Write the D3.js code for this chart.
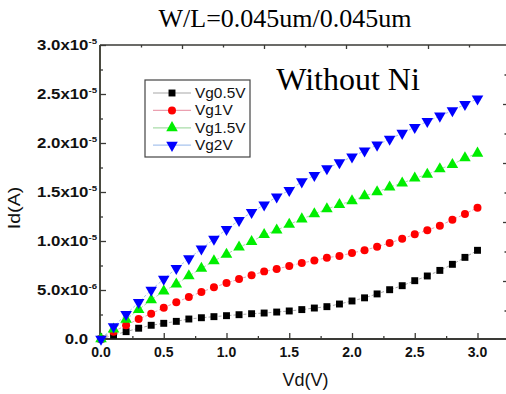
<!DOCTYPE html>
<html>
<head>
<meta charset="utf-8">
<script src="https://cdn.jsdelivr.net/npm/d3@7"></script>
<style>
  html, body { margin: 0; padding: 0; background: #fff; }
  svg { display: block; }
</style>
</head>
<body>
<div id="chart"></div>
<script>
// drain voltage sweep
const vd = [0, 0.1, 0.2, 0.3, 0.4, 0.5, 0.6, 0.7, 0.8, 0.9, 1.0, 1.1, 1.2, 1.3, 1.4, 1.5,
  1.6, 1.7, 1.8, 1.9, 2.0, 2.1, 2.2, 2.3, 2.4, 2.5, 2.6, 2.7, 2.8, 2.9, 3.0];

// drain current, in units of 1e-6 A
const idVg05 = [0, 0.40, 0.75, 1.10, 1.40, 1.60, 1.80, 2.04, 2.17, 2.28, 2.38, 2.48, 2.58, 2.65, 2.75, 2.86,
  3.00, 3.16, 3.30, 3.57, 3.88, 4.20, 4.60, 5.03, 5.44, 5.95, 6.43, 7.00, 7.62, 8.33, 9.05];
const idVg1 = [0, 0.75, 1.40, 2.04, 2.58, 3.20, 3.74, 4.29, 4.80, 5.27, 5.71, 6.12, 6.50, 6.90, 7.14, 7.45,
  7.76, 8.00, 8.30, 8.47, 8.78, 9.05, 9.42, 9.80, 10.23, 10.68, 11.10, 11.56, 12.17, 12.76, 13.40];
const idVg15 = [0, 1.00, 2.00, 3.00, 3.98, 4.87, 5.60, 6.43, 7.20, 7.96, 8.64, 9.36, 9.93, 10.64, 11.10, 11.70,
  12.24, 12.76, 13.27, 13.70, 14.10, 14.60, 15.00, 15.50, 15.90, 16.40, 16.80, 17.35, 17.80, 18.47, 18.95];
const idVg2 = [0, 1.26, 2.52, 3.74, 5.00, 6.12, 7.20, 8.20, 9.20, 10.20, 11.20, 12.10, 12.93, 13.70, 14.50, 15.17,
  16.05, 16.70, 17.40, 18.00, 18.60, 19.20, 19.80, 20.40, 21.00, 21.60, 22.20, 22.76, 23.30, 23.95, 24.50];

const seriesNames = ['Vg0.5V', 'Vg1V', 'Vg1.5V', 'Vg2V'];

const xTicks = [0, 0.5, 1.0, 1.5, 2.0, 2.5, 3.0];
const xTickLabels = ['0.0', '0.5', '1.0', '1.5', '2.0', '2.5', '3.0'];
const yTicks = [0, 5e-6, 1e-5, 1.5e-5, 2e-5, 2.5e-5, 3e-5];
const yTickMant = ['0.0', '5.0x10', '1.0x10', '1.5x10', '2.0x10', '2.5x10', '3.0x10'];
const yTickExp = ['', '-6', '-5', '-5', '-5', '-5', '-5'];

const width = 506;
const height = 394;
const margin = { top: 45, right: 0, bottom: 55, left: 101 };
const plotBottom = height - margin.bottom; // 339

const x = d3.scaleLinear().domain([0, 3.25]).range([margin.left, margin.left + 3.25 * 125.5]);
const y = d3.scaleLinear().domain([0, 3e-5]).range([plotBottom, margin.top]);

// twin frame axes on top and right (unlabelled)
const xTop = d3.scaleLinear().domain([0, 5]).range([100, 510]);
const yRight = d3.scaleLinear().domain([0, 5]).range([340, 45]);

const svg = d3.select('#chart')
    .append('svg')
    .attr('width', width)
    .attr('height', height);

const axisColor = '#3a3a36';

// title
svg.append('text')
    .attr('x', 285)
    .attr('y', 27)
    .attr('text-anchor', 'middle')
    .attr('font-family', 'Liberation Serif, Times New Roman, serif')
    .attr('font-size', '26px')
    .text('W/L=0.045um/0.045um');

// frame
svg.append('line')
    .attr('x1', 100).attr('x2', width + 2)
    .attr('y1', margin.top).attr('y2', margin.top)
    .attr('stroke', axisColor).attr('stroke-width', 1.5);
svg.append('line')
    .attr('x1', 100).attr('x2', width + 2)
    .attr('y1', plotBottom).attr('y2', plotBottom)
    .attr('stroke', axisColor).attr('stroke-width', 2);
svg.append('line')
    .attr('x1', 100).attr('x2', 100)
    .attr('y1', margin.top).attr('y2', plotBottom)
    .attr('stroke', '#4a4a40').attr('stroke-width', 2);

function tickGroup(axis, transform) {
    const g = svg.append('g').attr('transform', transform).call(axis);
    g.select('.domain').remove();
    g.selectAll('line').attr('stroke', axisColor).attr('stroke-width', 1.3);
    g.selectAll('text').remove();
    return g;
}

// bottom ticks (inward)
tickGroup(d3.axisBottom(x).tickValues(xTicks).tickSize(-6), `translate(0,${plotBottom})`);
tickGroup(d3.axisBottom(x).tickValues(d3.range(0.25, 3.3, 0.5)).tickSize(-3), `translate(0,${plotBottom})`);
// left ticks (inward)
tickGroup(d3.axisLeft(y).tickValues(yTicks).tickSize(-6), `translate(100,0)`);
tickGroup(d3.axisLeft(y).tickValues(d3.range(2.5e-6, 3e-5, 5e-6)).tickSize(-3), `translate(100,0)`);
// top ticks
tickGroup(d3.axisTop(xTop).tickValues([1, 2, 3, 4]).tickSize(-4), `translate(0,${margin.top})`);
tickGroup(d3.axisTop(xTop).tickValues([0.5, 1.5, 2.5, 3.5, 4.5]).tickSize(-2.5), `translate(0,${margin.top})`);
// right ticks
tickGroup(d3.axisRight(yRight).tickValues([1, 2, 3, 4]).tickSize(-4), `translate(507,0)`);
tickGroup(d3.axisRight(yRight).tickValues([0.5, 1.5, 2.5, 3.5, 4.5]).tickSize(-2.5), `translate(507,0)`);

// x tick labels
svg.append('g').selectAll('text')
    .data(xTicks)
    .join('text')
    .attr('x', d => x(d))
    .attr('y', plotBottom + 18)
    .attr('text-anchor', 'middle')
    .attr('font-family', 'Liberation Sans, Arial, sans-serif')
    .attr('font-weight', 'bold')
    .attr('font-size', '14px')
    .attr('fill', '#111')
    .text((d, i) => xTickLabels[i]);

// y tick labels with superscripts (slightly stretched, as in the source)
const yl = svg.append('g').selectAll('text')
    .data(yTicks)
    .join('text')
    .attr('transform', (d, i) => `translate(${yTickExp[i] ? 97 : 88},${y(d) + 5}) scale(1.2,1)`)
    .attr('text-anchor', 'end')
    .attr('font-family', 'Liberation Sans, Arial, sans-serif')
    .attr('font-weight', 'bold')
    .attr('font-size', '14px')
    .attr('fill', '#111');
yl.append('tspan').text((d, i) => yTickMant[i]);
yl.append('tspan')
    .attr('dy', -6)
    .attr('font-size', '8px')
    .text((d, i) => yTickExp[i]);

// axis titles
svg.append('text')
    .attr('x', x(1.63))
    .attr('y', 386)
    .attr('text-anchor', 'middle')
    .attr('font-family', 'Liberation Sans, Arial, sans-serif')
    .attr('font-size', '18px')
    .attr('fill', '#111')
    .text('Vd(V)');
svg.append('text')
    .attr('transform', 'translate(20,208) rotate(-90) scale(1.15,1)')
    .attr('text-anchor', 'middle')
    .attr('font-family', 'Liberation Sans, Arial, sans-serif')
    .attr('font-size', '17px')
    .attr('fill', '#111')
    .text('Id(A)');

// series
const series = [
    { name: seriesNames[0], values: idVg05, color: '#000000', line: '#a8a8a8', shape: d3.symbolSquare, size: 48, rot: 0 },
    { name: seriesNames[1], values: idVg1, color: '#ff0000', line: '#eba0b0', shape: d3.symbolCircle, size: 50, rot: 0 },
    { name: seriesNames[2], values: idVg15, color: '#00ee00', line: '#a8dca8', shape: d3.symbolTriangle, size: 58, rot: 0 },
    { name: seriesNames[3], values: idVg2, color: '#0000ff', line: '#a8c4ee', shape: d3.symbolTriangle, size: 58, rot: 180 }
];

const line = d3.line()
    .x((d, i) => x(vd[i]))
    .y(d => y(d * 1e-6));

series.forEach(s => {
    svg.append('path')
        .datum(s.values)
        .attr('d', line)
        .attr('fill', 'none')
        .attr('stroke', s.line)
        .attr('stroke-width', 1)
        .attr('stroke-dasharray', '3,2');
});

series.forEach(s => {
    svg.append('g').selectAll('path')
        .data(s.values)
        .join('path')
        .attr('d', d3.symbol().type(s.shape).size(s.size))
        .attr('transform', (d, i) => `translate(${x(vd[i])},${y(d * 1e-6)}) rotate(${s.rot})`)
        .attr('fill', s.color);
});

// annotation
svg.append('text')
    .attr('x', 348)
    .attr('y', 90)
    .attr('text-anchor', 'middle')
    .attr('font-family', 'Liberation Serif, Times New Roman, serif')
    .attr('font-size', '32px')
    .attr('fill', '#000')
    .text('Without Ni');

// legend
const legend = svg.append('g').attr('transform', 'translate(145,80)');
legend.append('rect')
    .attr('width', 105)
    .attr('height', 77)
    .attr('fill', '#fff')
    .attr('stroke', '#444')
    .attr('stroke-width', 1.2);

const rows = legend.selectAll('g.row')
    .data(series)
    .join('g')
    .attr('class', 'row')
    .attr('transform', (d, i) => `translate(0,${13 + i * 17.4})`);
rows.append('line')
    .attr('x1', 8).attr('x2', 46)
    .attr('stroke', d => d.line)
    .attr('stroke-width', 1.2);
rows.append('path')
    .attr('d', d => d3.symbol().type(d.shape).size(d.size)())
    .attr('transform', d => `translate(27,0) rotate(${d.rot})`)
    .attr('fill', d => d.color);
rows.append('text')
    .attr('transform', 'translate(50,5) scale(1.1,1)')
    .attr('font-family', 'Liberation Sans, Arial, sans-serif')
    .attr('font-size', '14px')
    .attr('fill', '#111')
    .text(d => d.name);
</script>
</body>
</html>
